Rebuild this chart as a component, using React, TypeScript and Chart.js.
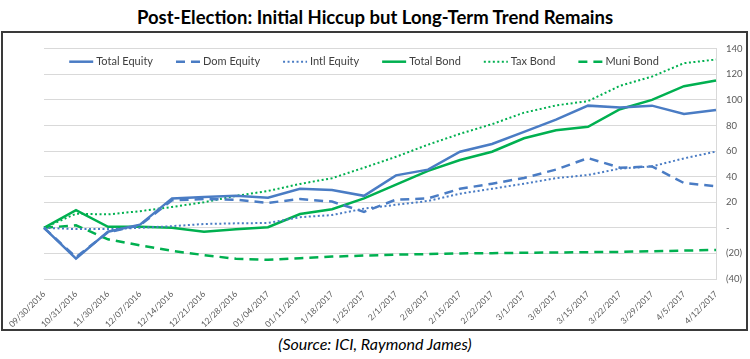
import { useEffect, useRef } from "react";
import { Chart, registerables } from "chart.js";
Chart.register(...registerables);

const categories = [
  "09/30/2016", "10/31/2016", "11/30/2016", "12/07/2016", "12/14/2016", "12/21/2016",
  "12/28/2016", "01/04/2017", "01/11/2017", "1/18/2017", "1/25/2017", "2/1/2017",
  "2/8/2017", "2/15/2017", "2/22/2017", "3/1/2017", "3/8/2017", "3/15/2017",
  "3/22/2017", "3/29/2017", "4/5/2017", "4/12/2017",
];

const totalEquity = [0, -24, -3, 2.5, 23, 24, 25, 23.5, 30.5, 29.5, 25, 41, 45.5, 59.5, 65.5, 75, 84.5, 95.5, 94, 95.5, 89, 92];
const domEquity = [0, -23, -3.5, 2, 21.5, 22.5, 22, 19.5, 22.5, 20.5, 12.5, 22, 23, 30.5, 34.5, 39, 45.5, 54.5, 47, 48, 35, 32.5];
const intlEquity = [0, -1, -1, 0, 1.3, 3, 3.5, 3.8, 8.3, 10, 15, 18, 21, 26.7, 30.5, 34.5, 38.8, 41.3, 46.3, 48, 54.3, 59.6];
const totalBond = [0, 13.8, 0.8, 0.8, 0, -3, -1.2, 0.5, 10.8, 14.5, 23, 33.8, 44.5, 53, 59.5, 70, 76.2, 79, 92.7, 100, 110.7, 115.2];
const taxBond = [0, 11, 10.5, 13, 16.3, 20, 25, 28.8, 34.3, 38.8, 47, 55.5, 65, 73.5, 81, 90, 95.7, 99, 111, 118.2, 128.7, 131.5];
const muniBond = [0, 2, -9, -13.7, -18, -21.3, -24.2, -25, -23.7, -22.5, -21.7, -21, -20.5, -20, -19.8, -19.5, -19.3, -19, -18.8, -18.3, -17.8, -17.3];

const yMin = -40;
const yMax = 140;
const yStep = 20;

const BLUE = "#4a7cc4";
const GREEN = "#00b050";
const FONT = "Lato, 'Open Sans', sans-serif";

// legend drawn inside the plot area, in one row, like the original
const LEG_FONT = 11;
const LEG_LINE = 24;
const LEG_GAP = 3;
const LEG_SPACING = 23;
const LEG_OFFSET_X = -16;
const LEG_OFFSET_Y = 13;

const lineLegend = {
  id: "lineLegend",
  afterDatasetsDraw(chart: any) {
    const { ctx, chartArea } = chart;
    ctx.save();
    ctx.font = `${LEG_FONT}px ${FONT}`;
    const items = chart.data.datasets.map((ds: any) => ({
      ds,
      w: LEG_LINE + LEG_GAP + ctx.measureText(ds.label).width,
    }));
    const total = items.reduce((a: number, it: any) => a + it.w, 0) + LEG_SPACING * (items.length - 1);
    let x = (chartArea.left + chartArea.right) / 2 + LEG_OFFSET_X - total / 2;
    const y = chartArea.top + LEG_OFFSET_Y;
    for (const it of items) {
      const ds = it.ds;
      ctx.strokeStyle = ds.borderColor;
      ctx.lineWidth = ds.borderWidth;
      ctx.setLineDash(ds.borderDash || []);
      ctx.lineCap = "butt";
      ctx.beginPath();
      ctx.moveTo(x, y);
      ctx.lineTo(x + LEG_LINE, y);
      ctx.stroke();
      ctx.setLineDash([]);
      ctx.fillStyle = "#404040";
      ctx.textBaseline = "middle";
      ctx.textAlign = "left";
      ctx.fillText(ds.label, x + LEG_LINE + LEG_GAP, y);
      x += it.w + LEG_SPACING;
    }
    ctx.restore();
  },
};

export default function App() {
  const ref = useRef<HTMLCanvasElement | null>(null);

  useEffect(() => {
    document.body.style.margin = "0";
    if (!ref.current) return;
    const mk = (label: string, data: number[], color: string, dash: number[], width: number) => ({
      label,
      data,
      borderColor: color,
      backgroundColor: color,
      borderWidth: width,
      borderDash: dash,
      pointRadius: 0,
      pointHoverRadius: 0,
      tension: 0,
      fill: false,
    });
    const chart = new Chart(ref.current, {
      type: "line",
      data: {
        labels: categories,
        datasets: [
          mk("Total Equity", totalEquity, BLUE, [], 2.5),
          mk("Dom Equity", domEquity, BLUE, [9, 6], 2.5),
          mk("Intl Equity", intlEquity, BLUE, [2, 2.5], 2),
          mk("Total Bond", totalBond, GREEN, [], 2.5),
          mk("Tax Bond", taxBond, GREEN, [2, 2.5], 2),
          mk("Muni Bond", muniBond, GREEN, [9, 6], 2.5),
        ],
      },
      plugins: [lineLegend],
      options: {
        animation: false,
        responsive: false,
        maintainAspectRatio: false,
        layout: { padding: { left: 41, top: 9, right: 0, bottom: 0 } },
        plugins: {
          title: { display: false },
          tooltip: { enabled: false },
          legend: { display: false },
        },
        scales: {
          x: {
            grid: { display: false },
            border: { display: false },
            afterFit: (s: any) => {
              s.height = 50;
              s.paddingLeft = 0;
              s.paddingRight = 0;
            },
            ticks: {
              autoSkip: false,
              minRotation: 45,
              maxRotation: 45,
              padding: 2,
              color: "#595959",
              font: { family: FONT, size: 8.5 },
            },
          },
          y: {
            position: "right",
            min: yMin,
            max: yMax,
            afterFit: (s: any) => {
              s.width = 30;
            },
            grid: { color: "#d9d9d9", lineWidth: 1, drawTicks: false },
            border: { display: true, color: "#d9d9d9" },
            ticks: {
              stepSize: yStep,
              padding: 10,
              color: "#595959",
              font: { family: FONT, size: 9.5 },
              callback: (v: any) => {
                const n = Number(v);
                if (n === 0) return "-";
                if (n < 0) return `(${-n})`;
                return `${n}`;
              },
            },
          },
        },
      },
    });
    return () => chart.destroy();
  }, []);

  return (
    <div style={{ position: "relative", width: 750, height: 359, background: "#fff", fontFamily: FONT }}>
      <div
        style={{
          position: "absolute",
          top: 6,
          left: 0,
          width: 750,
          textAlign: "center",
          fontWeight: 700,
          fontSize: 18.5,
          color: "#000",
        }}
      >
        Post-Election: Initial Hiccup but Long-Term Trend Remains
      </div>
      <div
        style={{
          position: "absolute",
          left: 1,
          top: 31,
          width: 747,
          height: 300,
          border: "2px solid #3a3a3a",
          boxSizing: "border-box",
        }}
      >
        <canvas ref={ref} width={743} height={296} style={{ display: "block", width: 743, height: 296 }} />
      </div>
      <div
        style={{
          position: "absolute",
          top: 334,
          left: 0,
          width: 750,
          textAlign: "center",
          fontStyle: "italic",
          fontSize: 16,
          color: "#000",
        }}
      >
        (Source: ICI, Raymond James)
      </div>
    </div>
  );
}
